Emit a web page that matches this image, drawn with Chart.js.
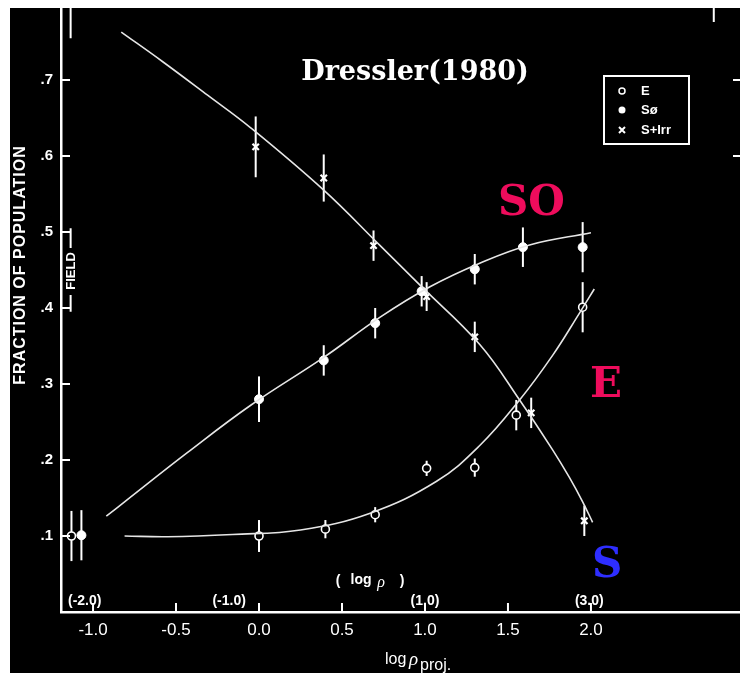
<!DOCTYPE html>
<html>
<head>
<meta charset="utf-8">
<script src="https://cdn.jsdelivr.net/npm/chart.js@4.4.1/dist/chart.umd.min.js"></script>
<style>
  body { margin: 0; background: #fff; }
  canvas { display: block; }
</style>
</head>
<body>
<canvas id="myChart" width="740" height="673"></canvas>
<script>
// measured points (log rho_proj, fraction) with half error bars
const eX = [-1.13, 0.0, 0.40, 0.70, 1.01, 1.30, 1.55, 1.95];
const eY = [0.100, 0.100, 0.109, 0.128, 0.189, 0.190, 0.259, 0.401];
const eErr = [0.033, 0.021, 0.012, 0.010, 0.010, 0.012, 0.020, 0.033];

const s0X = [-1.07, 0.0, 0.39, 0.70, 0.98, 1.30, 1.59, 1.95];
const s0Y = [0.101, 0.280, 0.331, 0.380, 0.422, 0.451, 0.480, 0.480];
const s0Err = [0.033, 0.030, 0.020, 0.020, 0.020, 0.020, 0.026, 0.033];

const sX = [-0.02, 0.39, 0.69, 1.01, 1.30, 1.64, 1.96];
const sY = [0.612, 0.571, 0.482, 0.415, 0.362, 0.262, 0.120];
const sErr = [0.040, 0.031, 0.020, 0.019, 0.020, 0.020, 0.020];

// hand drawn fit curves
const eCurveX = [-0.81, -0.55, -0.16, 0.25, 0.67, 1.07, 1.33, 1.57, 1.77, 1.93, 2.02];
const eCurveY = [0.100, 0.099, 0.102, 0.108, 0.130, 0.172, 0.219, 0.279, 0.338, 0.393, 0.425];

const s0CurveX = [-0.92, -0.81, -0.43, -0.05, 0.39, 0.73, 1.03, 1.33, 1.63, 2.0];
const s0CurveY = [0.126, 0.145, 0.210, 0.272, 0.335, 0.388, 0.428, 0.459, 0.483, 0.499];

const sCurveX = [-0.83, -0.58, -0.31, -0.05, 0.39, 0.73, 0.97, 1.33, 1.57, 1.77, 1.87, 1.95, 2.01];
const sCurveY = [0.763, 0.724, 0.680, 0.637, 0.555, 0.482, 0.430, 0.352, 0.279, 0.213, 0.177, 0.145, 0.118];

const xTicks = [-1.0, -0.5, 0.0, 0.5, 1.0, 1.5, 2.0];
const yTicks = [0.1, 0.2, 0.3, 0.4, 0.5, 0.6, 0.7];

// log rho labels along the bottom
const topLabels = ['(-2.0)', '(-1.0)', '(1.0)', '(3.0)'];
const topLabelX = [-1.05, -0.18, 1.0, 1.99];

const PINK = '#ee0c5c';
const BLUE = '#2e2eff';

function pts(xs, ys) {
    return xs.map((x, i) => ({x: x, y: ys[i]}));
}

function curve(xs, ys) {
    return {
        data: pts(xs, ys),
        showLine: true,
        borderColor: '#e6e6e6',
        borderWidth: 1.6,
        pointRadius: 0,
        tension: 0.4,
        fill: false,
    };
}

const errorBars = {
    id: 'errorBars',
    beforeDatasetsDraw(chart) {
        const ctx = chart.ctx;
        const xs = chart.scales.x, ys = chart.scales.y;
        ctx.save();
        ctx.strokeStyle = '#fff';
        ctx.lineWidth = 2;
        [[eX, eY, eErr], [s0X, s0Y, s0Err], [sX, sY, sErr]].forEach(([X, Y, E]) => {
            X.forEach((x, i) => {
                const px = xs.getPixelForValue(x);
                ctx.beginPath();
                ctx.moveTo(px, ys.getPixelForValue(Y[i] + E[i]));
                ctx.lineTo(px, ys.getPixelForValue(Y[i] - E[i]));
                ctx.stroke();
            });
        });
        ctx.restore();
    }
};

const background = {
    id: 'background',
    beforeDraw(chart) {
        const ctx = chart.ctx;
        ctx.save();
        ctx.fillStyle = '#000';
        ctx.fillRect(10, 8, chart.width - 10, chart.height - 8);
        ctx.restore();
    }
};

const decorations = {
    id: 'decorations',
    afterDraw(chart) {
        const ctx = chart.ctx;
        const xs = chart.scales.x, ys = chart.scales.y;
        const area = chart.chartArea;
        ctx.save();
        ctx.strokeStyle = '#fff';
        ctx.fillStyle = '#fff';
        ctx.lineWidth = 2;

        // inward tick marks
        xTicks.forEach(v => {
            const px = xs.getPixelForValue(v);
            ctx.beginPath();
            ctx.moveTo(px, area.bottom);
            ctx.lineTo(px, area.bottom - 9);
            ctx.stroke();
        });
        yTicks.forEach(v => {
            const py = ys.getPixelForValue(v);
            ctx.beginPath();
            ctx.moveTo(area.left, py);
            ctx.lineTo(area.left + 9, py);
            ctx.stroke();
        });
        [0.7, 0.6].forEach(v => {
            const py = ys.getPixelForValue(v);
            ctx.beginPath();
            ctx.moveTo(area.right - 7, py);
            ctx.lineTo(area.right, py);
            ctx.stroke();
        });
        ctx.beginPath();
        ctx.moveTo(xs.getPixelForValue(2.74), area.top);
        ctx.lineTo(xs.getPixelForValue(2.74), area.top + 14);
        ctx.stroke();

        // field markers next to the y axis
        const fx = xs.getPixelForValue(-1.135);
        ctx.beginPath();
        ctx.moveTo(fx, ys.getPixelForValue(0.795));
        ctx.lineTo(fx, ys.getPixelForValue(0.755));
        ctx.moveTo(fx, ys.getPixelForValue(0.505));
        ctx.lineTo(fx, 248);
        ctx.moveTo(fx, 295);
        ctx.lineTo(fx, ys.getPixelForValue(0.395));
        ctx.stroke();
        ctx.save();
        ctx.translate(fx + 1, 271);
        ctx.rotate(-Math.PI / 2);
        ctx.font = 'bold 13px "Liberation Sans"';
        ctx.textAlign = 'center';
        ctx.textBaseline = 'middle';
        ctx.fillText('FIELD', 0, 0);
        ctx.restore();

        // y axis title
        ctx.save();
        ctx.translate(21, 265);
        ctx.rotate(-Math.PI / 2);
        ctx.font = 'bold 16px "Liberation Sans"';
        ctx.letterSpacing = '1px';
        ctx.textAlign = 'center';
        ctx.textBaseline = 'middle';
        ctx.fillText('FRACTION OF POPULATION', 0, 0);
        ctx.restore();

        // log rho labels
        ctx.font = 'bold 14px "Liberation Sans"';
        ctx.textAlign = 'center';
        ctx.textBaseline = 'middle';
        topLabels.forEach((t, i) => {
            ctx.fillText(t, xs.getPixelForValue(topLabelX[i]), 601);
        });
        ctx.fillText('(', 338, 581);
        ctx.fillText(')', 402, 581);
        ctx.fillText('log', 361, 580);
        ctx.font = 'italic 16px "Liberation Serif"';
        ctx.fillText('\u03c1', 381, 583);

        // x axis title
        ctx.textAlign = 'left';
        ctx.textBaseline = 'alphabetic';
        ctx.font = '16px "Liberation Sans"';
        ctx.fillText('log', 385, 664);
        ctx.font = 'italic 19px "Liberation Serif"';
        ctx.fillText('\u03c1', 409, 665);
        ctx.font = '16px "Liberation Sans"';
        ctx.fillText('proj.', 420, 670);

        // title
        ctx.font = 'bold 27px "DejaVu Serif"';
        ctx.textAlign = 'center';
        ctx.fillText('Dressler(1980)', 415, 80);

        // big class labels
        ctx.font = 'bold 42px "DejaVu Serif"';
        ctx.textAlign = 'left';
        ctx.fillStyle = PINK;
        ctx.fillText('SO', 498, 215);
        ctx.fillText('E', 590, 397);
        ctx.fillStyle = BLUE;
        ctx.fillText('S', 592, 577);

        // legend box
        ctx.fillStyle = '#fff';
        ctx.strokeRect(604, 76, 85, 68);
        ctx.lineWidth = 1.5;
        ctx.beginPath();
        ctx.arc(622, 91, 3, 0, Math.PI * 2);
        ctx.stroke();
        ctx.beginPath();
        ctx.arc(622, 110, 3.5, 0, Math.PI * 2);
        ctx.fill();
        ctx.lineWidth = 2;
        ctx.beginPath();
        ctx.moveTo(619, 127); ctx.lineTo(625, 133);
        ctx.moveTo(625, 127); ctx.lineTo(619, 133);
        ctx.stroke();
        ctx.font = 'bold 13px "Liberation Sans"';
        ctx.textBaseline = 'middle';
        ctx.fillText('E', 641, 91);
        ctx.fillText('S\u00f8', 641, 110);
        ctx.fillText('S+Irr', 641, 130);
        ctx.restore();
    }
};

const data = {
    datasets: [
        curve(eCurveX, eCurveY),
        curve(s0CurveX, s0CurveY),
        curve(sCurveX, sCurveY),
        {
            label: 'E',
            data: pts(eX, eY),
            pointStyle: 'circle',
            pointRadius: 4,
            backgroundColor: '#000',
            borderColor: '#fff',
            borderWidth: 1.6,
        },
        {
            label: 'S0',
            data: pts(s0X, s0Y),
            pointStyle: 'circle',
            pointRadius: 4.5,
            backgroundColor: '#fff',
            borderColor: '#fff',
            borderWidth: 1,
        },
        {
            label: 'S+Irr',
            data: pts(sX, sY),
            pointStyle: 'crossRot',
            pointRadius: 4.5,
            borderColor: '#fff',
            borderWidth: 2.2,
        }
    ]
};

const config = {
    type: 'scatter',
    data: data,
    options: {
        responsive: false,
        animation: false,
        layout: {autoPadding: false, padding: {left: 10, top: 8, right: 0, bottom: 0}},
        plugins: {
            legend: {display: false},
            tooltip: {enabled: false}
        },
        scales: {
            x: {
                type: 'linear',
                min: -1.193,
                max: 2.898,
                afterFit: (s) => { s.height = 61; s.paddingLeft = 0; s.paddingRight = 0; },
                afterBuildTicks: (s) => { s.ticks = xTicks.map(v => ({value: v})); },
                grid: {display: false, drawTicks: false},
                border: {display: true, color: '#fff', width: 2.5},
                ticks: {
                    color: '#fff',
                    font: {family: 'Liberation Sans', size: 17},
                    padding: 8,
                    maxRotation: 0,
                    callback: (v) => v.toFixed(1)
                }
            },
            y: {
                type: 'linear',
                min: 0,
                max: 0.7947,
                afterFit: (s) => { s.width = 51; s.paddingTop = 0; s.paddingBottom = 0; },
                afterBuildTicks: (s) => { s.ticks = yTicks.map(v => ({value: v})); },
                grid: {display: false, drawTicks: false},
                border: {display: true, color: '#fff', width: 2.5},
                ticks: {
                    color: '#fff',
                    font: {family: 'Liberation Sans', size: 15, weight: 'bold'},
                    padding: 8,
                    callback: (v) => '.' + Math.round(v * 10)
                }
            }
        }
    },
    plugins: [background, errorBars, decorations]
};

const myChart = new Chart(document.getElementById('myChart'), config);
</script>
</body>
</html>
